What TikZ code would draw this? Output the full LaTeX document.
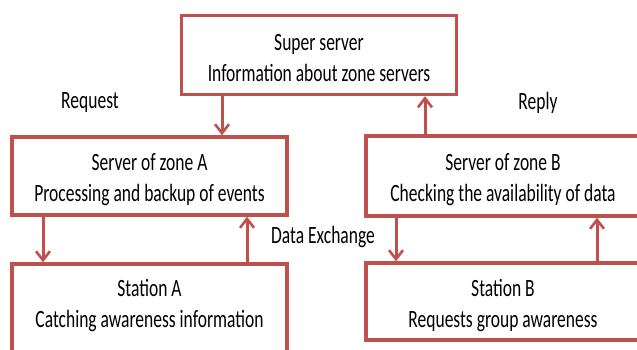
\documentclass[tikz,border=0pt]{standalone}
\usepackage{fontspec}
\usepackage{graphicx}
\setmainfont{Carlito}
\usetikzlibrary{arrows.meta}
\definecolor{boxred}{HTML}{C0504D}
\newcommand{\twol}[3][4pt]{\raisebox{0pt}[\dimexpr\height+#1\relax][\dimexpr\depth-#1\relax]{\scalebox{1}[1.42]{\begin{tabular}{@{}c@{}}#2\\#3\end{tabular}}}}
\newcommand{\vs}[1]{\scalebox{1}[1.42]{#1}}
\tikzset{
  box/.style={draw=boxred, line width=3.4pt, fill=white, rectangle, align=center, font=\fontsize{17.5}{22}\selectfont, inner sep=0pt},
  arr/.style={draw=boxred, line width=3pt, -{Straight Barb[length=9pt,width=14pt,line width=2.6pt]}},
  lbl/.style={font=\fontsize{17.5}{21}\selectfont, inner sep=0pt}
}
\begin{document}
\begin{tikzpicture}[x=1pt,y=-1pt]
\useasboundingbox (0,0) rectangle (637,349);
\clip (0,0) rectangle (637,349);
\fill[white] (0,0) rectangle (637,349);
\node[box, minimum width=275pt, minimum height=79pt] (super) at (319,55) {\twol[4.5pt]{Super server}{Information about zone servers}};
\node[box, minimum width=275pt, minimum height=78pt] (srvA) at (149.5,176) {\twol[4pt]{Server of zone A}{Processing and backup of events}};
\node[box, minimum width=274pt, minimum height=80pt] (srvB) at (503,176) {\twol[4pt]{Server of zone B}{Checking the availability of data}};
\node[box, minimum width=275pt, minimum height=110pt] (stA) at (149.5,319) {\twol[-13.5pt]{Station A}{Catching awareness information}};
\node[box, minimum width=274pt, minimum height=77pt] (stB) at (503,301.5) {\twol[4pt]{Station B}{Requests group awareness}};
\node[lbl] (req) at (90,103) {\vs{Request}};
\node[lbl] (rep) at (538,103) {\vs{Reply}};
\node[lbl] (dx) at (323,237) {\vs{Data Exchange}};
\draw[arr] (super.south -| 222,0) -- (srvA.north -| 222,0);
\draw[arr] (srvB.north -| 425,0) -- (super.south -| 425,0);
\draw[arr] (srvA.south -| 43,0) -- (stA.north -| 43,0);
\draw[arr] (stA.north -| 247,0) -- (srvA.south -| 247,0);
\draw[arr] (srvB.south -| 396,0) -- (stB.north -| 396,0);
\draw[arr] (stB.north -| 597,0) -- (srvB.south -| 597,0);
\end{tikzpicture}
\end{document}
